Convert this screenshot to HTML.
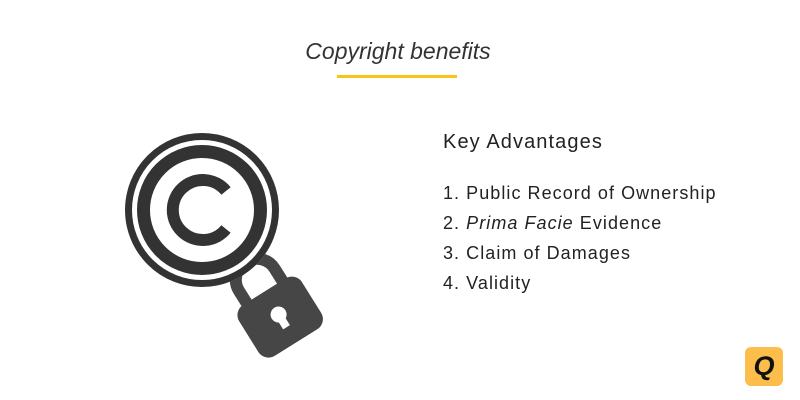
<!DOCTYPE html>
<html><head><meta charset="utf-8"><style>
html,body{margin:0;padding:0;background:#fff;}
#c{position:relative;width:800px;height:400px;overflow:hidden;font-family:"Liberation Sans",sans-serif;color:#222;}
.t{position:absolute;white-space:nowrap;}
.li{font-size:18px;letter-spacing:1.05px;left:443px;}
</style></head><body>
<div id="c">
<div class="t" style="left:0;width:796px;text-align:center;top:38px;font-size:23px;font-style:italic;color:#333;">Copyright benefits</div>
<div style="position:absolute;left:337px;top:75px;width:120px;height:3px;background:#f5c518;"></div>
<svg width="800" height="400" style="position:absolute;left:0;top:0">
  <g transform="translate(277,312) rotate(-32)">
    <path d="M-21,-22 L-21,-38 A21,21 0 0 1 21,-38 L21,-22" fill="none" stroke="#464646" stroke-width="12"/>
    <rect x="-37" y="-24" width="74" height="60" rx="12" fill="#464646"/>
    <circle cx="0" cy="3" r="8" fill="#fff"/>
    <rect x="-4" y="3" width="8" height="15" fill="#fff"/>
  </g>
  <circle cx="202" cy="210" r="77" fill="#fff"/>
  <circle cx="202" cy="210" r="73.5" fill="none" stroke="#333" stroke-width="7"/>
  <circle cx="202" cy="210" r="58.5" fill="none" stroke="#333" stroke-width="13"/>
  <path d="M226,191 A30,30 0 1 0 226,229" fill="none" stroke="#333" stroke-width="12"/>
</svg>
<div class="t" style="left:443px;top:131px;font-size:20px;letter-spacing:1.1px;">Key Advantages</div>
<div class="t li" style="top:183px;">1. Public Record of Ownership</div>
<div class="t li" style="top:213px;">2. <i>Prima Facie</i> Evidence</div>
<div class="t li" style="top:243px;">3. Claim of Damages</div>
<div class="t li" style="top:273px;">4. Validity</div>
<div style="position:absolute;left:745px;top:347px;width:38px;height:39px;border-radius:6px;background:#fdbd4b;color:#111;font-weight:bold;font-style:italic;font-size:27px;line-height:39px;text-align:center;">Q</div>
</div>
</body></html>
